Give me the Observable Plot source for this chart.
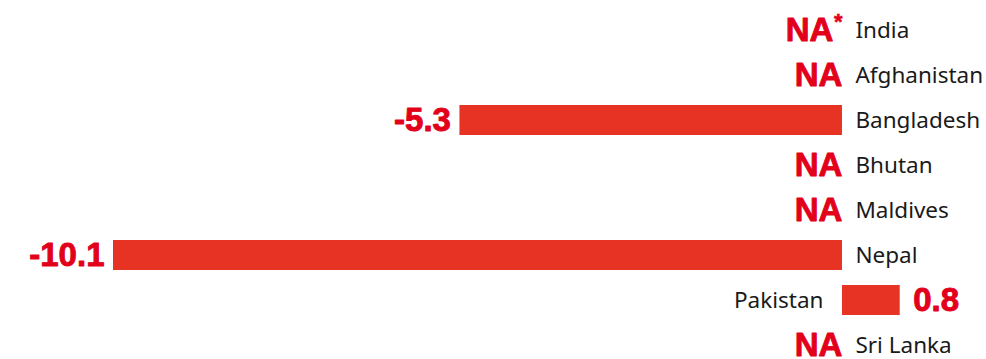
<!DOCTYPE html>
<html><head><meta charset="utf-8">
<script src="https://cdn.jsdelivr.net/npm/d3@7"></script>
<script src="https://cdn.jsdelivr.net/npm/@observablehq/plot@0.6"></script>
<style>body{margin:0;background:#fff}</style>
</head><body><div id="chart"></div>
<script>
const countries = ["India","Afghanistan","Bangladesh","Bhutan","Maldives","Nepal","Pakistan","Sri Lanka"];
const values = [null, null, -5.3, null, null, -10.1, 0.8, null];
const valueLabels = ["NA", "NA", "-5.3", "NA", "NA", "-10.1", "0.8", "NA"];
const notes = ["*", "", "", "", "", "", "", ""];

const data = countries.map((c, i) => ({country: c, value: values[i], label: valueLabels[i], note: notes[i]}));
const bars = data.filter(d => d.value != null);
const na = data.filter(d => d.value == null);

const RED_BAR = "#e63323", RED_TXT = "#e2001a";
const valFont = {fontFamily: "'Liberation Sans', Arial, sans-serif", fontWeight: "bold", fontSize: 33, fill: RED_TXT, stroke: RED_TXT, strokeWidth: 0.9};
const nameFont = {fontFamily: "'Noto Sans', 'Open Sans', sans-serif", fontSize: 22.5, fill: "#1a1a1a"};

const chart = Plot.plot({
  width: 986, height: 359,
  margin: 0,
  x: {domain: [-10.1, 0.8], range: [113, 899.7], axis: null},
  y: {domain: countries, range: [6.4, 368.4], paddingInner: 0.33, paddingOuter: 0.165, axis: null},
  marks: [
    Plot.barX(bars, {x1: 0, x2: "value", y: "country", fill: RED_BAR}),
    Plot.text(bars.filter(d => d.value < 0), {x: "value", y: "country", text: "label", textAnchor: "end", dx: -9, ...valFont}),
    Plot.text(bars.filter(d => d.value > 0), {x: "value", y: "country", text: "label", textAnchor: "start", dx: 13, ...valFont}),
    Plot.text(na.filter(d => !d.note), {x: 0, y: "country", text: "label", textAnchor: "end", ...valFont}),
    Plot.text(na.filter(d => d.note), {x: 0, y: "country", text: "label", textAnchor: "end", dx: -9, ...valFont}),
    Plot.text(na.filter(d => d.note), {x: 0, y: "country", text: "note", textAnchor: "end", dy: -9, ...valFont, fontSize: 22, strokeWidth: 0.5}),
    Plot.text(data.filter(d => !(d.value > 0)), {x: 0, y: "country", text: "country", textAnchor: "start", dx: 13, ...nameFont}),
    Plot.text(data.filter(d => d.value > 0), {x: 0, y: "country", text: "country", textAnchor: "end", dx: -19, ...nameFont})
  ]
});
document.getElementById("chart").append(chart);
</script>
</body></html>
